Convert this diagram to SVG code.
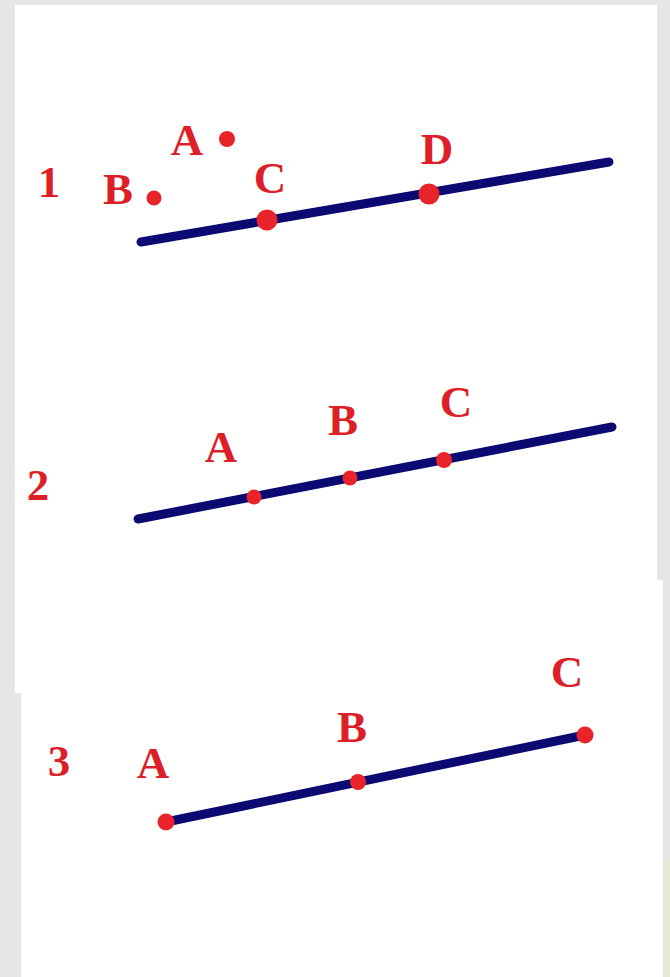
<svg xmlns="http://www.w3.org/2000/svg" width="670" height="977" viewBox="0 0 670 977">
<style>
  .lbl { font-family: "Liberation Serif", "Times New Roman", serif; font-weight: bold; font-size: 45px; fill: #dc1f28; text-anchor: middle; }
  .pt { fill: #e8232a; }
  .ln { stroke: #0a0a72; stroke-width: 9; stroke-linecap: round; fill: none; }
</style>
<rect x="0" y="0" width="670" height="977" fill="#e6e6e6"/>
<rect x="663" y="860" width="7" height="117" fill="#e8e8d8"/>
<rect x="15" y="5" width="642" height="688" fill="#ffffff"/>
<rect x="21" y="580" width="642" height="397" fill="#ffffff"/>

<g id="connectors">
  <line class="ln" x1="141" y1="242" x2="609" y2="162"/>
  <line class="ln" x1="138" y1="519" x2="612" y2="427"/>
  <line class="ln" x1="166" y1="822" x2="585" y2="735"/>
</g>

<g id="label-1"><text class="lbl" x="49" y="197">1</text></g>
<g id="p1-B"><text class="lbl" x="118" y="204">B</text><circle class="pt" cx="154" cy="198" r="7.5"/></g>
<g id="p1-A"><text class="lbl" x="187" y="155">A</text><circle class="pt" cx="227" cy="139" r="8"/></g>
<g id="p1-C"><text class="lbl" x="270" y="193">C</text><circle class="pt" cx="267" cy="220" r="10.5"/></g>
<g id="p1-D"><text class="lbl" x="437" y="164">D</text><circle class="pt" cx="429" cy="194" r="10.5"/></g>

<g id="label-2"><text class="lbl" x="38" y="500">2</text></g>
<g id="p2-A"><text class="lbl" x="221" y="462">A</text><circle class="pt" cx="254" cy="497" r="7.5"/></g>
<g id="p2-B"><text class="lbl" x="343" y="435">B</text><circle class="pt" cx="350" cy="478" r="7.5"/></g>
<g id="p2-C"><text class="lbl" x="456" y="417">C</text><circle class="pt" cx="444" cy="460" r="8"/></g>

<g id="label-3"><text class="lbl" x="59" y="776">3</text></g>
<g id="p3-A"><text class="lbl" x="153" y="778">A</text><circle class="pt" cx="166" cy="822" r="8.5"/></g>
<g id="p3-B"><text class="lbl" x="352" y="742">B</text><circle class="pt" cx="358" cy="782" r="8"/></g>
<g id="p3-C"><text class="lbl" x="567" y="687">C</text><circle class="pt" cx="585" cy="735" r="8.5"/></g>
</svg>
